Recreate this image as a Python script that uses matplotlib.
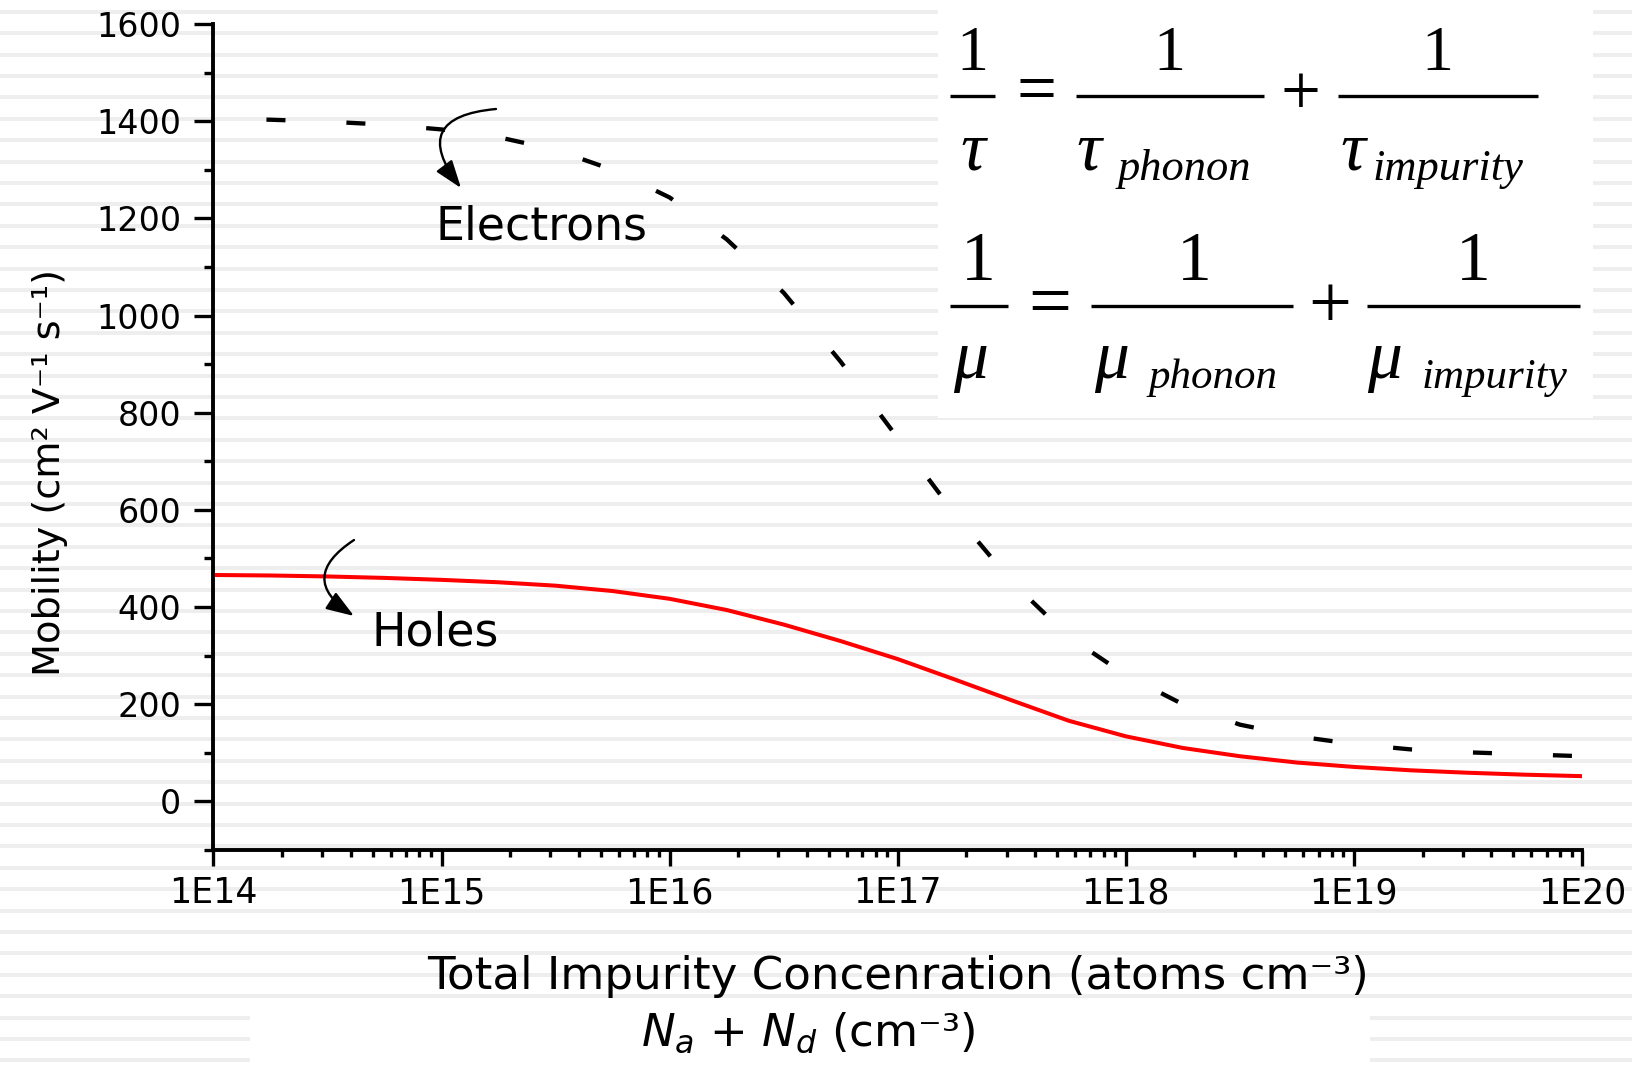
import matplotlib
matplotlib.use("Agg")
import matplotlib.pyplot as plt
from matplotlib.patches import Rectangle, FancyArrowPatch
from matplotlib.lines import Line2D
from matplotlib.ticker import FixedLocator, FixedFormatter, MultipleLocator, LogLocator, NullFormatter

plt.rcParams['font.family'] = ['DejaVu Sans']
plt.rcParams['lines.scale_dashes'] = False

# ---------------- data ----------------
log_concentration = [14.0, 14.25, 14.5, 14.75, 15.0, 15.25, 15.5, 15.75, 16.0, 16.25,
                     16.5, 16.75, 17.0, 17.25, 17.5, 17.75, 18.0, 18.25, 18.5, 18.75,
                     19.0, 19.25, 19.5, 19.75, 20.0]
electron_mobility = [1405, 1403, 1399, 1393, 1383, 1367, 1341, 1300, 1243, 1157,
                     1047, 905, 748, 592, 452, 339, 260, 200, 158, 134,
                     118, 107, 101, 97, 93]
hole_mobility = [466, 465, 463, 460, 456, 451, 444, 433, 417, 394,
                 364, 330, 293, 251, 208, 166, 134, 110, 93, 80,
                 71, 64, 59, 55, 52]

x_tick_values = [1e14, 1e15, 1e16, 1e17, 1e18, 1e19, 1e20]
x_tick_labels = ['1E14', '1E15', '1E16', '1E17', '1E18', '1E19', '1E20']
y_tick_values = [0, 200, 400, 600, 800, 1000, 1200, 1400, 1600]
y_tick_labels = ['0', '200', '400', '600', '800', '1000', '1200', '1400', '1600']

concentration = [10 ** v for v in log_concentration]

W, H = 1632, 1066
fig = plt.figure(figsize=(W / 100, H / 100), dpi=100)
fig.patch.set_facecolor('white')

# ---------------- striped slide background ----------------
bg = fig.add_axes([0, 0, 1, 1], zorder=0)
bg.set_xlim(0, W)
bg.set_ylim(H, 0)
bg.axis('off')
for i in range(51):
    yc = 11.7 + 21.4 * i
    bg.axhspan(yc - 2.0, yc + 2.0, color='#eeeeee', lw=0)
bg.add_patch(Rectangle((938, 0), 655, 418, facecolor='white', edgecolor='none'))
bg.add_patch(Rectangle((250, 1010), 1120, 60, facecolor='white', edgecolor='none'))

# ---------------- main axes ----------------
left, right, top, bottom = 213.4, 1582.0, 24.0, 850.0
ax = fig.add_axes([left / W, 1 - bottom / H, (right - left) / W, (bottom - top) / H], zorder=1)
ax.patch.set_alpha(0)

ax.plot(concentration, electron_mobility, color='black', lw=3.1,
        linestyle=(19.4, (13.7, 43.9)), solid_capstyle='butt', dash_capstyle='butt')
ax.plot(concentration, hole_mobility, color='#ff0000', lw=2.9)

ax.set_xscale('log')
ax.set_xlim(1e14, 1e20)
ax.set_ylim(-100, 1600)
ax.xaxis.set_major_locator(FixedLocator(x_tick_values))
ax.xaxis.set_major_formatter(FixedFormatter(x_tick_labels))
ax.xaxis.set_minor_locator(LogLocator(base=10, subs=[2, 3, 4, 5, 6, 7, 8, 9], numticks=50))
ax.xaxis.set_minor_formatter(NullFormatter())
ax.yaxis.set_major_locator(FixedLocator(y_tick_values))
ax.yaxis.set_major_formatter(FixedFormatter(y_tick_labels))
ax.yaxis.set_minor_locator(MultipleLocator(100))

for s in ['top', 'right']:
    ax.spines[s].set_visible(False)
for s in ['left', 'bottom']:
    ax.spines[s].set_linewidth(2.8)
ax.tick_params(axis='y', which='major', direction='out', length=13.5, width=2.4,
               labelsize=24, pad=9.5)
ax.tick_params(axis='y', which='minor', direction='out', length=6.5, width=2.4)
ax.tick_params(axis='x', which='major', direction='out', length=11.3, width=2.4,
               labelsize=25, pad=7.5)
ax.tick_params(axis='x', which='minor', direction='out', length=5.0, width=2.4)

ax.set_xlabel('Total Impurity Concenration (atoms cm\u207b\u00b3)', fontsize=32.5)
ax.xaxis.set_label_coords(0.5, (bottom - 989) / (bottom - top))
ax.xaxis.label.set_verticalalignment('baseline')

ax.set_ylabel('Mobility (cm\u00b2 V\u207b\u00b9 s\u207b\u00b9)', fontsize=27.5)
ax.yaxis.set_label_coords((60 - left) / (right - left), (bottom - 472) / (bottom - top))
ax.yaxis.label.set_verticalalignment('baseline')

# ---------------- overlay: annotations and equations ----------------
ov = fig.add_axes([0, 0, 1, 1], zorder=3)
ov.set_xlim(0, W)
ov.set_ylim(H, 0)
ov.axis('off')
ov.patch.set_alpha(0)

ov.text(808, 1046, '$N_a$ + $N_d$ (cm\u207b\u00b3)',
        fontsize=32.5, ha='center', va='baseline', math_fontfamily='dejavusans')

ov.text(435, 239, 'Electrons', fontsize=33, ha='left', va='baseline')
ov.text(371, 645, 'Holes', fontsize=33, ha='left', va='baseline')

arrow_style = '-|>,head_length=0.85,head_width=0.3'
ov.add_patch(FancyArrowPatch((496, 109), (461, 188), arrowstyle=arrow_style,
                             connectionstyle='arc3,rad=0.9', mutation_scale=20,
                             lw=1.7, color='black', shrinkA=0, shrinkB=0))
ov.add_patch(FancyArrowPatch((354, 540), (354, 616), arrowstyle=arrow_style,
                             connectionstyle='arc3,rad=0.76', mutation_scale=20,
                             lw=1.7, color='black', shrinkA=0, shrinkB=0))

serif = 'Liberation Serif'


def bar(x0, x1, y):
    ov.add_line(Line2D([x0, x1], [y, y], color='black', lw=2.4, solid_capstyle='butt'))


def t(x, y, s, size, ha='left', italic=False):
    ov.text(x, y, s, fontsize=size, ha=ha, va='baseline', family=serif,
            style='italic' if italic else 'normal')


# equation 1: 1/tau = 1/tau_phonon + 1/tau_impurity
t(972.5, 70, '1', 46, ha='center')
bar(950, 995, 96)
t(973, 170, '\u03c4', 50, ha='center', italic=True)
t(1036, 112, '=', 51, ha='center')
t(1169.5, 70, '1', 46, ha='center')
bar(1075.5, 1263.6, 96)
t(1076, 170, '\u03c4', 50, italic=True)
t(1118, 180, 'phonon', 32, italic=True)
t(1300.5, 114, '+', 51, ha='center')
t(1437.8, 70, '1', 46, ha='center')
bar(1337.5, 1538, 96)
t(1340, 170, '\u03c4', 50, italic=True)
t(1373, 180, 'impurity', 32, italic=True)

# equation 2: 1/mu = 1/mu_phonon + 1/mu_impurity
t(978, 280, '1', 50, ha='center')
bar(950, 1008, 306)
t(953, 378, '\u03bc', 50, italic=True)
t(1050, 325.5, '=', 55, ha='center')
t(1194, 280, '1', 50, ha='center')
bar(1091, 1293, 306)
t(1094, 378, '\u03bc', 50, italic=True)
t(1149, 388, 'phonon', 31, italic=True)
t(1329.5, 327.5, '+', 55, ha='center')
t(1473, 280, '1', 50, ha='center')
bar(1366.6, 1580, 306)
t(1367, 378, '\u03bc', 50, italic=True)
t(1422, 388, 'impurity', 31, italic=True)

fig.savefig('out.png', dpi=100)
